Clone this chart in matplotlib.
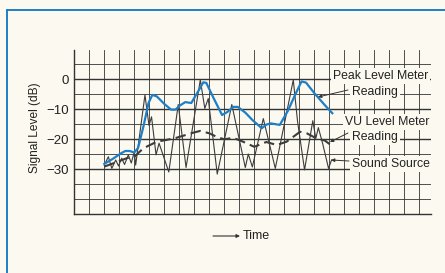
import matplotlib.pyplot as plt
from matplotlib.lines import Line2D

plt.rcParams['font.family'] = ['Liberation Sans', 'DejaVu Sans']

# peak level meter reading (blue)
peak_x = [2.0, 2.6, 3.1, 3.4, 3.7, 4.0, 4.25, 4.6, 4.95, 5.2, 5.5, 6.0, 6.45, 6.75,
          7.05, 7.4, 7.8, 8.2, 8.6, 8.8, 9.3, 9.85, 10.2, 10.6, 10.9, 11.4, 11.9,
          12.5, 12.8, 13.1, 13.7, 14.25, 14.7, 15.15, 15.45, 16.0, 16.7, 17.2]
peak_db = [-28.3, -26.5, -24.8, -24.0, -24.0, -24.5, -23.0, -16, -8, -5.3, -5.8, -8.3,
           -10.2, -10.2, -8.8, -7.7, -8.0, -4.6, -1.1, -1.3, -6.5, -12, -11, -9.3,
           -9.3, -11.2, -13.8, -16.4, -15.2, -14.8, -15.3, -10.5, -5.5, -0.8, -1.2,
           -4.7, -8.7, -11.4]

# vu level meter reading (dashed)
vu_x = [2.0, 2.6, 3.5, 4.05, 4.6, 5.5, 6.15, 6.8, 7.4, 8.0, 8.4, 9.0, 9.5, 10.0,
        10.6, 11.25, 12.0, 12.8, 13.5, 14.15, 15.05, 15.5, 16.15, 16.7, 17.1]
vu_db = [-29.2, -28.1, -26.4, -25.7, -23.1, -20.9, -20.3, -19.6, -18.7, -17.8, -17.3,
         -18.1, -19.3, -20.1, -19.6, -20.9, -22.6, -21.0, -22.0, -20.9, -17.6, -18.1,
         -19.8, -20.5, -22.0]

# sound source (thin zigzag)
src_x = [2.0, 2.27, 2.5, 2.76, 2.95, 3.16, 3.35, 3.6, 3.8, 4.0, 4.09, 4.71, 4.98,
         5.15, 5.45, 5.65, 6.3, 6.93, 7.45, 8.4, 8.7, 8.93, 9.53, 10.5, 11.4, 11.6,
         11.87, 12.6, 13.4, 14.6, 14.88, 15.35, 15.9, 16.1, 16.27, 16.55, 16.95, 17.15]
src_db = [-28.7, -25.9, -29.8, -27.0, -29.0, -26.4, -28.5, -25.3, -28.0, -24.2, -28.7,
          -5.3, -15.5, -12.6, -25.3, -21.4, -31.0, -8.5, -29.5, -0.3, -9.8, -6.5,
          -31.7, -8.5, -29.5, -25.0, -29.3, -13.2, -29.8, -0.3, -14.0, -30.3, -13.9,
          -19.8, -16.2, -21.4, -29.8, -27.0]

yticks = [0, -10, -20, -30]
ytick_labels = ['0', '\u221210', '\u221220', '\u221230']

paper = '#fbf9f0'
ink = '#333333'
blue = '#1f7fc6'
W, H = 445, 273


def fx(px):
    return px / W


def fy(py):
    return 1 - py / H


fig = plt.figure(figsize=(W / 100, H / 100), dpi=100, facecolor=paper)
ax = fig.add_axes([fx(74.3), fy(214), fx(430.7) - fx(74.3), fy(50) - fy(214)])
ax.set_facecolor(paper)
ax.set_xlim(0, 23.76)
ax.set_ylim(-45, 9.67)

# graph paper grid
for yv in range(-40, 10, 5):
    major = yv % 10 == 0 and -30 <= yv <= 0
    ax.axhline(yv, color=ink, lw=1.0 if major else 0.6, zorder=1)
for xv in range(1, 24):
    ax.axvline(xv, color=ink, lw=0.6, zorder=1)

for s in ['top', 'right']:
    ax.spines[s].set_visible(False)
for s in ['left', 'bottom']:
    ax.spines[s].set_color(ink)
    ax.spines[s].set_linewidth(1.0)

ax.set_xticks([])
ax.set_yticks(yticks)
ax.set_yticklabels(ytick_labels, fontsize=9.5, color='#222222')
ax.tick_params(axis='y', length=0, pad=4)

ax.plot(src_x, src_db, color='#3c3c3c', lw=0.8, zorder=3)
ax.plot(vu_x, vu_db, color='#3c3c3c', lw=1.5, dashes=(5, 2.5), zorder=3)
ax.plot(peak_x, peak_db, color=blue, lw=1.6, solid_joinstyle='round', zorder=4)

fig.text(fx(35), fy(128), 'Signal Level (dB)', rotation=90, ha='center', va='center',
         fontsize=8.6, color='#222222')

# labels at the right, pasted over the grid
box = dict(facecolor=paper, edgecolor='none', pad=1.2)
labels = [('Peak Level Meter', 333, 76), ('Reading', 352, 92),
          ('VU Level Meter', 345, 122), ('Reading', 352, 137),
          ('Sound Source', 352, 164)]
for txt, px, py in labels:
    fig.text(fx(px), fy(py), txt, ha='left', va='center', fontsize=8.8,
             color='#222222', bbox=box, zorder=5)

# leader lines
leaders = [((348, 90), (318, 97)), ((348, 133), (330, 142)), ((349, 161), (331, 160))]
for (x0, y0), (x1, y1) in leaders:
    ax.annotate('', xy=(fx(x1), fy(y1)), xycoords='figure fraction',
                xytext=(fx(x0), fy(y0)), textcoords='figure fraction',
                arrowprops=dict(arrowstyle='-|>', lw=0.7, color=ink, mutation_scale=5,
                                shrinkA=0, shrinkB=0), zorder=6)

# time arrow
ax.annotate('', xy=(fx(240), fy(236)), xycoords='figure fraction',
            xytext=(fx(213), fy(236)), textcoords='figure fraction',
            arrowprops=dict(arrowstyle='-|>', lw=0.8, color=ink, mutation_scale=5,
                            shrinkA=0, shrinkB=0))
fig.text(fx(243), fy(236), 'Time', ha='left', va='center', fontsize=9, color='#222222')

# blue frame
fig.add_artist(Line2D([fx(7.3), fx(7.3)], [0, fy(10)], color=blue, lw=1.4))
fig.add_artist(Line2D([fx(7.3), 1], [fy(10), fy(10)], color=blue, lw=1.4))

fig.savefig('out.png', dpi=100, facecolor=paper)
